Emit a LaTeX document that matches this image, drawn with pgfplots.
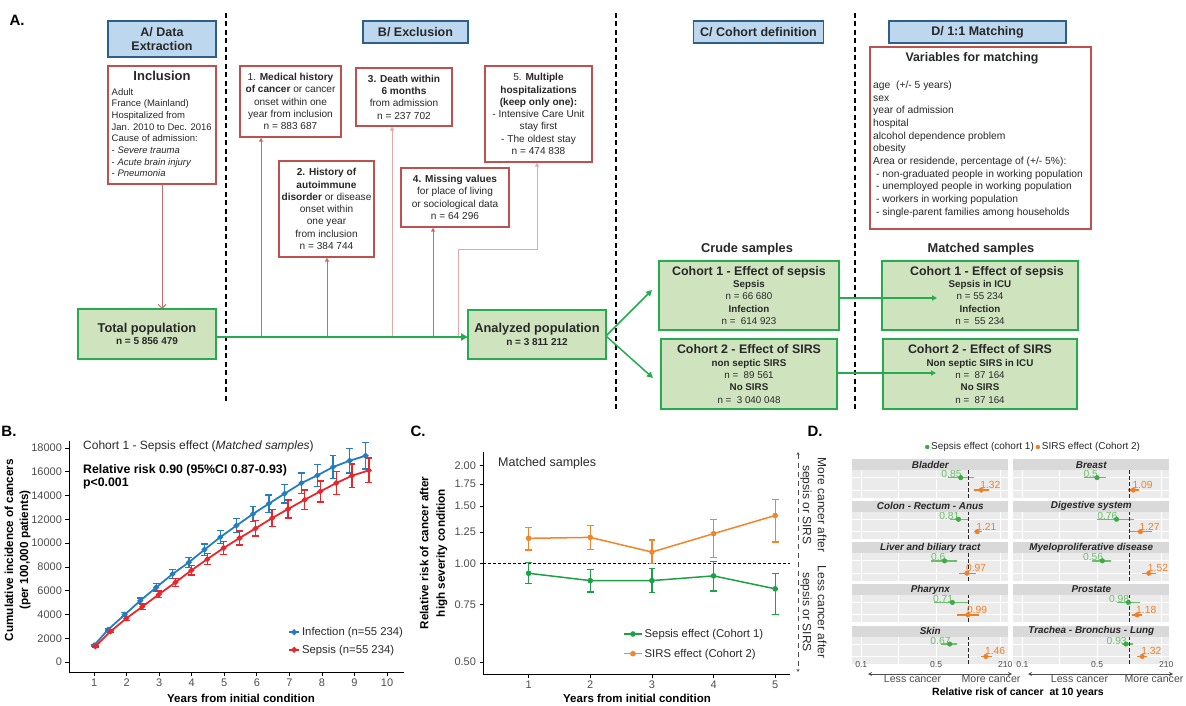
\documentclass[border=0pt]{standalone}
\usepackage{pgfplots}
\pgfplotsset{compat=1.18}
\usepackage{fontspec}
\setmainfont{Liberation Sans}
\usetikzlibrary{arrows.meta}
\definecolor{hdrfill}{RGB}{189,215,238}
\definecolor{hdrdraw}{RGB}{46,94,138}
\definecolor{redbox}{RGB}{192,80,77}
\definecolor{redln}{RGB}{205,105,103}
\definecolor{pinkln}{RGB}{228,168,168}
\definecolor{gfill}{RGB}{207,227,191}
\definecolor{gdraw}{RGB}{36,172,78}
\definecolor{txt}{RGB}{40,40,40}
\definecolor{bblue}{RGB}{35,125,190}
\definecolor{bred}{RGB}{230,40,45}
\definecolor{cgreen}{RGB}{30,160,70}
\definecolor{corange}{RGB}{242,132,42}
\definecolor{tickgray}{RGB}{77,77,77}
\definecolor{panelbg}{RGB}{235,235,235}
\definecolor{stripbg}{RGB}{217,217,217}
\definecolor{dgreen}{RGB}{60,170,70}
\definecolor{dgreenl}{RGB}{105,192,105}
\definecolor{dorange}{RGB}{240,128,40}
\newcommand{\fs}[2]{\fontsize{#1}{#2}\selectfont}
\tikzset{
 hdr/.style={draw=hdrdraw, fill=hdrfill, line width=1.3pt, align=center, font=\fs{12.5}{14.7}\bfseries, inner sep=0pt, text=txt},
 rbox/.style={draw=redbox, fill=white, line width=1.3pt, align=center, inner sep=0pt, font=\fs{10.1}{12.3}, text=txt},
 gbox/.style={draw=gdraw, fill=gfill, line width=1.3pt, align=center, inner sep=0pt, font=\fs{9.8}{12.4}, text=txt},
 striptitle/.style={fill=stripbg, minimum width=156pt, minimum height=11pt, inner sep=0pt, outer sep=0pt, font=\fs{9.9}{10}\bfseries\itshape, text=txt},
}
% #1 x-left, #2 y-bottom, #3 title, #4 xticklabels, #5 g, #6 glo, #7 ghi, #8 o, #9 orange CI
\newcommand{\facet}[9]{%
\begin{axis}[xmode=log, scale only axis, width=156pt, height=27.3pt, anchor=south west,
   at={(#1pt,-#2pt)},
   xmin=0.0824, xmax=2.366, ymin=0.4, ymax=2.6,
   axis background/.style={fill=panelbg}, axis line style={draw=none},
   ytick={1,2}, yticklabels={,}, ytick style={draw=none},
   xtick={0.1,0.5,2}, minor xtick={0.2236,1}, minor tick length=0pt,
   xmajorgrids, xminorgrids, ymajorgrids,
   major grid style={white, line width=1pt}, minor grid style={white, line width=0.5pt},
   tick pos=left, tick align=outside, major tick length=0pt,
   xtick style={draw=none},
   xticklabel style={font=\fs{8.6}{8.6}, text=tickgray, inner sep=1pt, yshift=4pt},
   xticklabels={#4}, clip=false]
\addplot[dgreenl, line width=1.5pt] coordinates {(#6,2) (#7,2)};
\addplot[dorange, line width=1.5pt] coordinates {#9};
\addplot[black!85, line width=1pt, dash pattern=on 4pt off 2pt] coordinates {(1,0.4) (1,2.6)};
\addplot[dgreen, only marks, mark=*, mark size=2.3pt] coordinates {(#5,2)};
\addplot[dorange, only marks, mark=*, mark size=2.3pt] coordinates {(#8,1)};
\node[anchor=base east, inner sep=0pt, xshift=1pt, text=dgreenl, font=\fs{10.3}{10}] at (axis cs:#5,2) {#5};
\node[anchor=base west, inner sep=0pt, xshift=-1pt, yshift=1.5pt, text=dorange, font=\fs{10.3}{10}] at (axis cs:#8,1) {#8};
\node[striptitle, anchor=south] at (rel axis cs:0.5,1) {#3};
\end{axis}}
\begin{document}
\begin{tikzpicture}
\begin{scope}[x=1pt,y=1pt]
\foreach \xx/\yy in {226/402, 616/410, 855/410}
  \draw[black, line width=1.2pt, dash pattern=on 5pt off 3.5pt] (\xx,-13) -- (\xx,-\yy);
\node[font=\fs{15}{15}\bfseries, text=black] at (17,-20) {A.};
\node[hdr, minimum width=108pt, minimum height=36pt] at (162,-39) {A/ Data\\Extraction};
\node[hdr, minimum width=105pt, minimum height=22pt] at (415.5,-32) {B/ Exclusion};
\node[hdr, minimum width=130pt, minimum height=22pt] at (758.5,-32) {C/ Cohort definition};
\node[hdr, minimum width=177pt, minimum height=22pt] at (977.5,-32) {D/ 1:1 Matching};
% Inclusion
\draw[redbox, line width=1.3pt, fill=white] (108,-66) rectangle (216,-184);
\node[font=\fs{13}{13}\bfseries, text=txt] at (162,-75.7) {Inclusion};
\node[anchor=north west, align=left, inner sep=0pt, font=\fs{9.5}{11.7}, text=txt] at (111.5,-88) {Adult\\France (Mainland)\\Hospitalized from\\Jan. 2010 to Dec. 2016\\Cause of admission:\\- \textit{Severe trauma}\\- \textit{Acute brain injury}\\- \textit{Pneumonia}};
% exclusion boxes
\node[rbox, minimum width=101pt, minimum height=71pt] at (290.5,-101.5) {1. \textbf{Medical history}\\\textbf{of cancer} or cancer\\onset within one\\year from inclusion\\n = 883 687};
\node[rbox, minimum width=95pt, minimum height=96pt] at (326.5,-209) {\textbf{2. History of}\\\textbf{autoimmune}\\\textbf{disorder} or disease\\onset within\\one year\\from inclusion\\n = 384 744};
\node[rbox, minimum width=96pt, minimum height=58pt] at (404,-97) {\textbf{3. Death within}\\\textbf{6 months}\\from admission\\n = 237 702};
\node[rbox, minimum width=108pt, minimum height=59pt] at (455,-197.5) {\textbf{4. Missing values}\\for place of living\\or sociological data\\n = 64 296};
\node[rbox, minimum width=107pt, minimum height=96pt] at (538.5,-114) {5. \textbf{Multiple}\\\textbf{hospitalizations}\\\textbf{(keep only one):}\\- Intensive Care Unit\\stay first\\- The oldest stay\\n = 474 838};
% variables
\draw[redbox, line width=1.3pt, fill=white] (870,-47) rectangle (1091,-229);
\node[font=\fs{12.4}{12.4}\bfseries, text=txt] at (972,-58) {Variables for matching};
\node[anchor=north west, align=left, inner sep=0pt, font=\fs{10.3}{12.65}, text=txt] at (873,-81) {age\ \ (+/- 5 years)\\sex\\year of admission\\hospital\\alcohol dependence problem\\obesity\\Area or residende, percentage of (+/- 5\%):\\\ - non-graduated people in working population\\\ - unemployed people in working population\\\ - workers in working population\\\ - single-parent families among households};
% red connectors
\draw[redln, line width=0.9pt, -{Straight Barb[length=4pt,width=8pt]}] (162,-184) -- (162,-309);
\draw[redln, line width=0.9pt, -{Triangle[length=4pt,width=4pt]}] (261,-337) -- (261,-137.6);
\draw[redln, line width=0.9pt, -{Triangle[length=4pt,width=4pt]}] (327,-337) -- (327,-257.6);
\draw[pinkln, line width=0.9pt, -{Triangle[length=4pt,width=4pt]}] (392,-337) -- (392,-126.6);
\draw[redln, line width=0.9pt, -{Triangle[length=4pt,width=4pt]}] (433,-337) -- (433,-227.6);
\draw[pinkln, line width=0.9pt, -{Triangle[length=4pt,width=4pt]}] (458,-337) -- (458,-249) -- (537,-249) -- (537,-162.6);
% green boxes
\node[gbox, minimum width=138pt, minimum height=50pt] at (147,-334) {{\fs{12.8}{12.8}\bfseries Total population}\\{\fs{10}{10}\bfseries n = 5 856 479}};
\node[gbox, minimum width=138pt, minimum height=49pt] at (537,-334.5) {{\fs{12.8}{12.8}\bfseries Analyzed population}\\{\fs{10}{10}\bfseries n = 3 811 212}};
\node[font=\fs{12.8}{12.8}\bfseries, text=txt] at (747,-249) {Crude samples};
\node[font=\fs{12.8}{12.8}\bfseries, text=txt] at (981,-249) {Matched samples};
\node[gbox, minimum width=180pt, minimum height=69pt] at (749,-295.5) {{\fs{12.4}{12.4}\bfseries Cohort 1 - Effect of sepsis}\\\textbf{Sepsis}\\n = 66 680\\\textbf{Infection}\\n =\ \ 614 923};
\node[gbox, minimum width=176pt, minimum height=70pt] at (749,-374) {{\fs{12.4}{12.4}\bfseries Cohort 2 - Effect of SIRS}\\\textbf{non septic SIRS}\\n =\ \ 89 561\\\textbf{No SIRS}\\n =\ \ 3 040 048};
\node[gbox, minimum width=196pt, minimum height=69pt] at (980,-295.5) {\hspace*{14pt}{\fs{12.4}{12.4}\bfseries Cohort 1 - Effect of sepsis}\\\textbf{Sepsis in ICU}\\n = 55 234\\\textbf{Infection}\\n =\ \ 55 234};
\node[gbox, minimum width=194pt, minimum height=70pt] at (980,-374) {{\fs{12.4}{12.4}\bfseries Cohort 2 - Effect of SIRS}\\\textbf{Non septic SIRS in ICU}\\n =\ \ 87 164\\\textbf{No SIRS}\\n =\ \ 87 164};
% green arrows
\draw[gdraw, line width=2pt, -{Triangle[length=7pt,width=7pt]}] (216,-337) -- (468,-337);
\draw[gdraw, line width=1.5pt, -{Triangle[length=6pt,width=6pt]}] (606,-336) -- (652,-290);
\draw[gdraw, line width=1.5pt, -{Triangle[length=6pt,width=6pt]}] (606,-336) -- (653,-378);
\draw[gdraw, line width=1.8pt, -{Triangle[length=5pt,width=5pt]}] (839,-298) -- (937,-298);
\draw[gdraw, line width=1.8pt, -{Triangle[length=5pt,width=5pt]}] (837,-373) -- (936,-373);
% panel letters
\node[font=\fs{15}{15}\bfseries, text=black] at (9,-431) {B.};
\node[font=\fs{15}{15}\bfseries, text=black] at (418,-431) {C.};
\node[font=\fs{15}{15}\bfseries, text=black] at (815,-431) {D.};
\end{scope}

% ---------------- Panel B
\begin{axis}[at={(69pt,-672pt)}, anchor=south west, scale only axis, width=335pt, height=231pt,
 xmin=0.23, xmax=10.52, ymin=-840, ymax=18590,
 axis x line*=bottom, axis y line*=left, axis line style={black, line width=0.9pt},
 xtick={1,2,3,4,5,6,7,8,9,10}, ytick={0,2000,4000,6000,8000,10000,12000,14000,16000,18000},
 scaled y ticks=false,
 tick align=outside, major tick length=3.5pt, tick style={black, line width=0.7pt},
 tick label style={font=\fs{11}{11}, text=tickgray},
 /pgf/number format/assume math mode=true, /pgf/number format/1000 sep={},
 legend style={at={(0.654,0.203)}, anchor=north west, draw=none, fill=none, font=\fs{11.3}{11.3}, text=txt, row sep=4pt, inner sep=0pt},
 legend image code/.code={\draw[mark repeat=2, mark phase=2, #1] plot coordinates {(0pt,0pt) (5pt,0pt) (10pt,0pt)};},
 legend cell align=left, clip=false]
\addplot[bblue, line width=1.8pt, mark=*, mark size=1.9pt,
 error bars/.cd, y dir=both, y explicit, error bar style={line width=1.4pt}, error mark options={rotate=90, mark size=3.4pt, line width=1.4pt}]
 coordinates {
 (1.00,1400) +- (0,50)
 (1.43,2720) +- (0,110)
 (1.94,3980) +- (0,170)
 (2.42,5160) +- (0,230)
 (2.91,6280) +- (0,300)
 (3.41,7400) +- (0,360)
 (3.91,8380) +- (0,430)
 (4.39,9450) +- (0,490)
 (4.88,10510) +- (0,550)
 (5.37,11470) +- (0,600)
 (5.88,12450) +- (0,650)
 (6.37,13320) +- (0,720)
 (6.85,14160) +- (0,790)
 (7.37,15050) +- (0,860)
 (7.86,15700) +- (0,920)
 (8.34,16400) +- (0,980)
 (8.85,16930) +- (0,1040)
 (9.34,17350) +- (0,1100)
 };
\addlegendentry{Infection (n=55 234)}
\addplot[bred, line width=1.8pt, mark=*, mark size=1.9pt,
 error bars/.cd, y dir=both, y explicit, error bar style={line width=1.4pt}, error mark options={rotate=90, mark size=3.4pt, line width=1.4pt}]
 coordinates {
 (1.04,1320) +- (0,50)
 (1.51,2580) +- (0,100)
 (1.99,3670) +- (0,160)
 (2.48,4650) +- (0,220)
 (2.99,5690) +- (0,280)
 (3.50,6700) +- (0,340)
 (3.99,7710) +- (0,400)
 (4.48,8660) +- (0,460)
 (4.98,9590) +- (0,540)
 (5.47,10430) +- (0,590)
 (5.96,11240) +- (0,640)
 (6.47,12110) +- (0,700)
 (6.96,12870) +- (0,760)
 (7.47,13650) +- (0,830)
 (7.95,14350) +- (0,890)
 (8.44,15050) +- (0,950)
 (8.92,15670) +- (0,1000)
 (9.44,16120) +- (0,1030)
 };
\addlegendentry{Sepsis (n=55 234)}
\end{axis}

% ---------------- Panel C
\begin{axis}[at={(483pt,-674pt)}, anchor=south west, scale only axis, width=307pt, height=222pt,
 xmin=0.26, xmax=5.24, ymode=log, ymin=0.459, ymax=2.197,
 axis x line*=bottom, axis y line*=left, axis line style={black, line width=0.9pt},
 xtick={1,2,3,4,5}, ytick={0.5,0.75,1,1.25,1.5,1.75,2},
 yticklabels={0.50,0.75,1.00,1.25,1.50,1.75,2.00},
 tick align=outside, major tick length=3.5pt, tick style={black, line width=0.7pt},
 tick label style={font=\fs{11}{11}, text=tickgray},
 /pgf/number format/assume math mode=true,
 legend style={at={(0.456,0.212)}, anchor=north west, draw=none, fill=none, font=\fs{11.3}{11.3}, text=txt, row sep=6pt, inner sep=0pt},
 legend image code/.code={\draw[mark repeat=2, mark phase=2, #1] plot coordinates {(0pt,0pt) (9pt,0pt) (18pt,0pt)};},
 legend cell align=left, clip=false]
\addplot[black, line width=1.2pt, dash pattern=on 3pt off 2pt, forget plot] coordinates {(0.26,1) (5.24,1)};
\addplot[cgreen, line width=1.5pt, mark=*, mark size=2pt] coordinates {(1,0.934) (2,0.887) (3,0.887) (4,0.917) (5,0.837)};
\addlegendentry{Sepsis effect (Cohort 1)}
\addplot[corange, line width=1.5pt, mark=*, mark size=2pt] coordinates {(1,1.195) (2,1.203) (3,1.085) (4,1.235) (5,1.404)};
\addlegendentry{SIRS effect (Cohort 2)}
\addplot[cgreen, line width=1.3pt, mark=-, mark size=3.4pt, mark options={solid, line width=1.3pt}, unbounded coords=jump, forget plot]
 coordinates {(1,0.867) (1,1.007) (1,nan) (2,0.818) (2,0.957) (2,nan) (3,0.816) (3,0.965) (3,nan) (4,0.825) (4,1.014) (4,nan) (5,0.700) (5,0.934)};
\addplot[corange, line width=1.3pt, mark=-, mark size=3.4pt, mark options={solid, line width=1.3pt}, unbounded coords=jump, forget plot]
 coordinates {(1,1.10) (1,1.29) (1,nan) (2,1.106) (2,1.31) (2,nan) (3,1.0) (3,1.18) (3,nan) (4,1.045) (4,1.365) (4,nan) (5,1.164) (5,1.57)};
\end{axis}

% ---------------- Panel D facets
\facet{852.3}{497.5}{Bladder}{,,}{0.85}{0.64}{1.12}{1.32}{(1.14,1) (1.55,1)}
\facet{852.3}{539.1}{Colon - Rectum - Anus}{,,}{0.81}{0.67}{0.99}{1.21}{(1.12,1) (1.34,1)}
\facet{852.3}{580.7}{Liver and biliary tract}{,,}{0.6}{0.45}{0.79}{0.97}{(0.82,1) (1.17,1)}
\facet{852.3}{622.3}{Pharynx}{,,}{0.71}{0.48}{1.0}{0.99}{(0.79,1) (1.26,1)}
\facet{852.3}{663.9}{Skin}{0.1,0.5,2\rlap{10}}{0.67}{0.56}{0.79}{1.46}{(1.32,1) (1.67,1)}
\facet{1013.3}{497.5}{Breast}{,,}{0.5}{0.38}{0.60}{1.09}{(0.97,1) (1.23,1)}
\facet{1013.3}{539.1}{Digestive system}{,,}{0.76}{0.50}{1.11}{1.27}{(1.0,1) (1.64,1)}
\facet{1013.3}{580.7}{Myeloproliferative disease}{,,}{0.56}{0.45}{0.67}{1.52}{(1.32,1) (1.79,1)}
\facet{1013.3}{622.3}{Prostate}{,,}{0.98}{0.77}{1.26}{1.18}{(1.06,1) (1.32,1)}
\facet{1013.3}{663.9}{Trachea - Bronchus - Lung}{0.1,0.5,2\rlap{10}}{0.93}{0.85}{1.08}{1.32}{(1.19,1) (1.47,1)}

% legend of panel D (an empty axis holding only the legend)
\begin{axis}[at={(852.3pt,-497.5pt)}, anchor=south west, scale only axis, width=156pt, height=27.3pt,
  hide axis, xmin=0, xmax=1, ymin=0, ymax=1,
  legend columns=2,
  legend style={at={(0.466,1.85)}, anchor=west, draw=none, fill=none, font=\fs{10}{10}, text=txt, inner sep=0pt, column sep=0pt},
  legend image code/.code={\draw[mark repeat=2, mark phase=2, #1] plot coordinates {(0pt,0pt) (3pt,0pt) (6pt,0pt)};}]
\addlegendimage{dgreen, only marks, mark=*, mark size=2pt}
\addlegendentry{Sepsis effect (cohort 1)}
\addlegendimage{dorange, only marks, mark=*, mark size=2pt}
\addlegendentry{SIRS effect (Cohort 2)}
\end{axis}

\begin{scope}[x=1pt,y=1pt]
% panel B texts
\node[anchor=west, font=\fs{12}{12}, text=txt, inner sep=0pt] at (83,-446) {Cohort 1 - Sepsis effect (\textit{Matched samples})};
\node[anchor=west, font=\fs{12.3}{12.3}\bfseries, text=black, inner sep=0pt] at (83,-470) {Relative risk 0.90 (95\%CI 0.87-0.93)};
\node[anchor=west, font=\fs{12.3}{12.3}\bfseries, text=black, inner sep=0pt] at (83,-483.5) {p<0.001};
\node[rotate=90, align=center, font=\fs{11.7}{15}\bfseries, text=black] at (17.5,-550) {Cumulative incidence of cancers\\(per 100,000 patients)};
\node[font=\fs{11.5}{11.5}\bfseries, text=black] at (241,-698.5) {Years from initial condition};
% panel C texts
\node[anchor=west, font=\fs{12.5}{12.5}, text=txt, inner sep=0pt] at (498,-463) {Matched samples};
\node[rotate=90, align=center, font=\fs{11.7}{16.5}\bfseries, text=black] at (433.5,-553) {Relative risk of cancer after\\high severity condition};
\node[font=\fs{11.5}{11.5}\bfseries, text=black] at (637,-698.5) {Years from initial condition};
\draw[tickgray, line width=0.8pt, dash pattern=on 5pt off 4pt, {Stealth[length=3pt,width=3pt]}-{Stealth[length=3pt,width=3pt]}] (798,-452) -- (798,-672);
\node[rotate=-90, align=center, font=\fs{12}{15}, text=txt] at (813.5,-505) {More cancer after\\sepsis or SIRS};
\node[rotate=-90, align=center, font=\fs{12}{15}, text=txt] at (813.5,-612) {Less cancer after\\sepsis or SIRS};
% panel D annotations
\draw[tickgray, line width=0.8pt, -{Stealth[length=4pt,width=4pt]}] (966,-674) -- (868,-674);
\draw[tickgray, line width=0.8pt, -{Stealth[length=4pt,width=4pt]}] (966,-674) -- (1012,-674);
\draw[tickgray, line width=0.8pt, -{Stealth[length=4pt,width=4pt]}] (1127,-674) -- (1028,-674);
\draw[tickgray, line width=0.8pt, -{Stealth[length=4pt,width=4pt]}] (1127,-674) -- (1173,-674);
\node[font=\fs{10.6}{10.6}, text=tickgray] at (912.5,-679) {Less cancer};
\node[font=\fs{10.6}{10.6}, text=tickgray] at (991,-679) {More cancer};
\node[font=\fs{10.6}{10.6}, text=tickgray] at (1079.5,-679) {Less cancer};
\node[font=\fs{10.6}{10.6}, text=tickgray] at (1154,-679) {More cancer};
\node[font=\fs{10.5}{10.5}\bfseries, text=black] at (1018,-693) {Relative risk of cancer\ \ at 10 years};
\end{scope}
\pgfresetboundingbox
\path[use as bounding box] (0pt,0pt) rectangle (1186pt,-706pt);
\end{tikzpicture}
\end{document}
